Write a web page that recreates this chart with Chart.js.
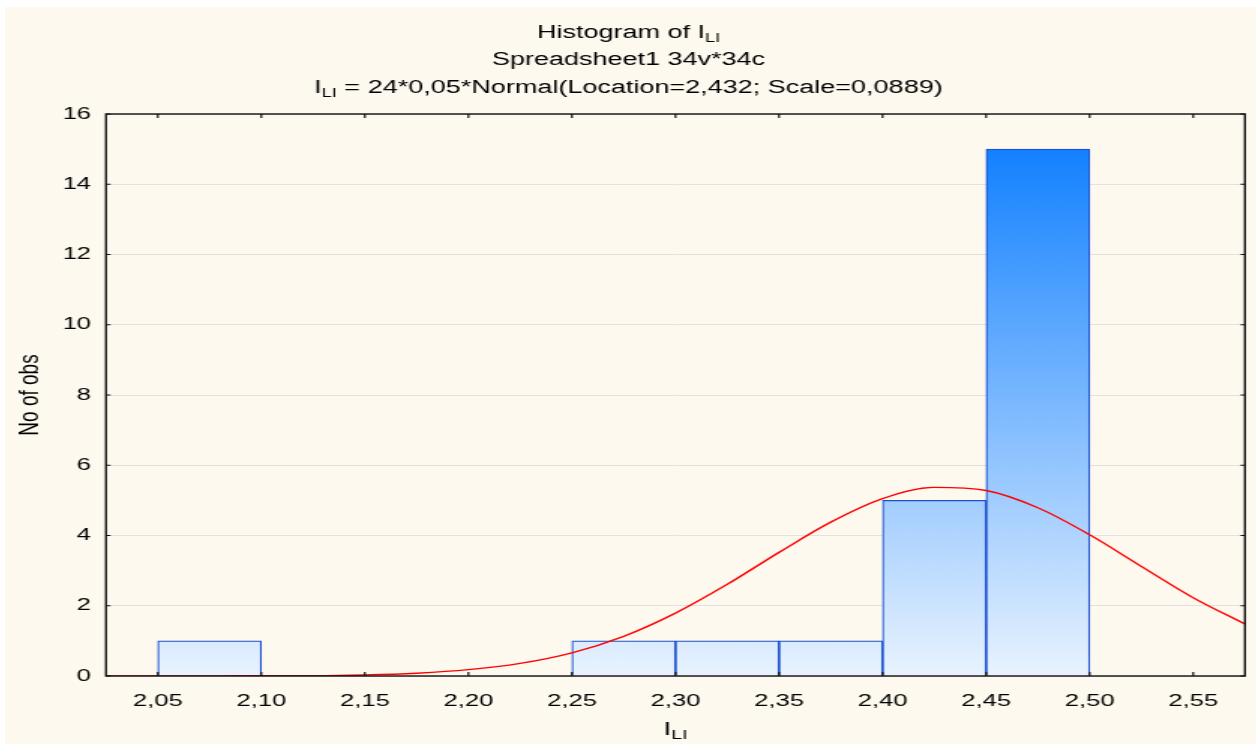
<!DOCTYPE html>
<html>
<head>
<meta charset="utf-8">
<script src="https://cdn.jsdelivr.net/npm/chart.js@4"></script>
<style>
  html, body { margin: 0; background: #fff; }
  #wrap { position: absolute; left: 5px; top: 7px; width: 1251px; height: 737px; background: #fdf9ef; overflow: hidden; }
  /* the reference is a horizontally stretched picture, so draw narrow and stretch */
  #chart { transform: scaleX(1.5006); transform-origin: 0 0; }
</style>
</head>
<body>
<div id="wrap"><canvas id="chart" width="833" height="737"></canvas></div>
<script>
// histogram bins (centres of 0,05 wide classes) and counts
const binCenters = [2.075, 2.125, 2.175, 2.225, 2.275, 2.325, 2.375, 2.425, 2.475];
const binCounts = [1, 0, 0, 0, 1, 1, 1, 5, 15];

// fitted normal curve
const curveX = [2.025, 2.05, 2.075, 2.10, 2.125, 2.15, 2.175, 2.20, 2.225, 2.25, 2.275, 2.30,
  2.325, 2.35, 2.375, 2.40, 2.425, 2.45, 2.475, 2.50, 2.525, 2.55, 2.575];
const curveY = [0, 0, 0, 0.01, 0.01, 0.03, 0.08, 0.18, 0.36, 0.66, 1.13, 1.79,
  2.61, 3.52, 4.38, 5.05, 5.37, 5.28, 4.79, 4.02, 3.12, 2.23, 1.48];

const xTicks = [2.05, 2.10, 2.15, 2.20, 2.25, 2.30, 2.35, 2.40, 2.45, 2.50, 2.55];
const yTicks = [0, 2, 4, 6, 8, 10, 12, 14, 16];

const FONT = "'Liberation Sans', Arial, Helvetica, sans-serif";

// text with an "I" subscript "LI" part, centred on cx
function drawParts(ctx, parts, cx, cy, size) {
  const subSize = Math.round(size * 0.68);
  let total = 0;
  parts.forEach(p => {
    ctx.font = (p.sub ? subSize : size) + "px " + FONT;
    p.w = ctx.measureText(p.t).width;
    total += p.w;
  });
  let x = cx - total / 2;
  parts.forEach(p => {
    ctx.font = (p.sub ? subSize : size) + "px " + FONT;
    ctx.fillText(p.t, x, cy + (p.sub ? size * 0.3 : 0));
    x += p.w;
  });
}

const decor = {
  id: "decor",
  afterDatasetsDraw(chart) {
    const ctx = chart.ctx;
    const a = chart.chartArea;
    const xs = chart.scales.x, ys = chart.scales.y;
    ctx.save();
    ctx.strokeStyle = "#111";
    ctx.lineWidth = 1.2;
    ctx.beginPath();
    // inner tick marks
    xTicks.forEach(v => {
      const px = xs.getPixelForValue(v);
      ctx.moveTo(px, a.bottom); ctx.lineTo(px, a.bottom - 4);
      ctx.moveTo(px, a.top); ctx.lineTo(px, a.top + 4);
    });
    yTicks.forEach(v => {
      const py = ys.getPixelForValue(v);
      ctx.moveTo(a.left, py); ctx.lineTo(a.left + 3, py);
      ctx.moveTo(a.right, py); ctx.lineTo(a.right - 3, py);
    });
    ctx.stroke();
    ctx.lineWidth = 1.4;
    ctx.strokeRect(a.left, a.top, a.right - a.left, a.bottom - a.top);
    ctx.restore();
  },
  afterDraw(chart) {
    const ctx = chart.ctx;
    const a = chart.chartArea;
    const cx = chart.width / 2 - 1;
    ctx.save();
    ctx.fillStyle = "#000";
    ctx.textBaseline = "middle";
    ctx.textAlign = "left";
    drawParts(ctx, [{ t: "Histogram of I" }, { t: "LI", sub: true }], cx, 26, 18);
    drawParts(ctx, [{ t: "Spreadsheet1 34v*34c" }], cx, 53, 18);
    drawParts(ctx, [{ t: "I" }, { t: "LI", sub: true },
      { t: " = 24*0,05*Normal(Location=2,432; Scale=0,0889)" }], cx, 81, 18);
    // x axis title
    drawParts(ctx, [{ t: "I" }, { t: "LI", sub: true }], (a.left + a.right) / 2, 723, 19);
    // y axis title
    ctx.translate(17, (a.top + a.bottom) / 2);
    ctx.rotate(-Math.PI / 2);
    ctx.textAlign = "center";
    ctx.font = "19px " + FONT;
    ctx.fillText("No of obs", 0, 0);
    ctx.restore();
  }
};

const barFill = function (c) {
  const chart = c.chart;
  if (!chart.chartArea) return "#cfe4fb";
  const ys = chart.scales.y;
  const g = chart.ctx.createLinearGradient(0, ys.getPixelForValue(0), 0, ys.getPixelForValue(15));
  g.addColorStop(0, "#e9f3fe");
  g.addColorStop(1, "#1381ff");
  return g;
};

const ctx = document.getElementById("chart").getContext("2d");
new Chart(ctx, {
  type: "bar",
  data: {
    datasets: [
      {
        type: "line",
        label: "Normal",
        data: curveX.map((x, i) => ({ x: x, y: curveY[i] })),
        borderColor: "#ff0000",
        borderWidth: 1.4,
        pointRadius: 0,
        cubicInterpolationMode: "monotone",
        fill: false,
        order: 0
      },
      {
        label: "No of obs",
        data: binCenters.map((x, i) => ({ x: x, y: binCounts[i] })),
        backgroundColor: barFill,
        borderColor: "#1c50d0",
        borderWidth: 1.2,
        barPercentage: 1,
        categoryPercentage: 1,
        order: 1
      }
    ]
  },
  options: {
    responsive: false,
    animation: false,
    layout: { padding: { left: 0, right: 6.7, top: 107, bottom: 0 } },
    scales: {
      x: {
        type: "linear",
        min: 2.025,
        max: 2.575,
        offset: false,
        grid: { display: false, drawTicks: false },
        border: { display: false },
        afterBuildTicks: s => { s.ticks = xTicks.map(v => ({ value: v })); },
        afterFit: s => { s.height = 68; },
        ticks: {
          padding: 15,
          maxRotation: 0,
          autoSkip: false,
          color: "#000",
          font: { family: FONT, size: 17 },
          callback: v => v.toFixed(2).replace(".", ",")
        }
      },
      y: {
        min: 0,
        max: 16,
        grid: { color: "#e2e2e2", lineWidth: 1, drawTicks: false },
        border: { display: false },
        afterBuildTicks: s => { s.ticks = yTicks.map(v => ({ value: v })); },
        afterFit: s => { s.width = 67.3; },
        ticks: {
          padding: 10,
          color: "#000",
          font: { family: FONT, size: 17 },
          callback: v => String(v)
        }
      }
    },
    plugins: {
      legend: { display: false },
      title: { display: false },
      tooltip: { enabled: false }
    }
  },
  plugins: [decor]
});
</script>
</body>
</html>
